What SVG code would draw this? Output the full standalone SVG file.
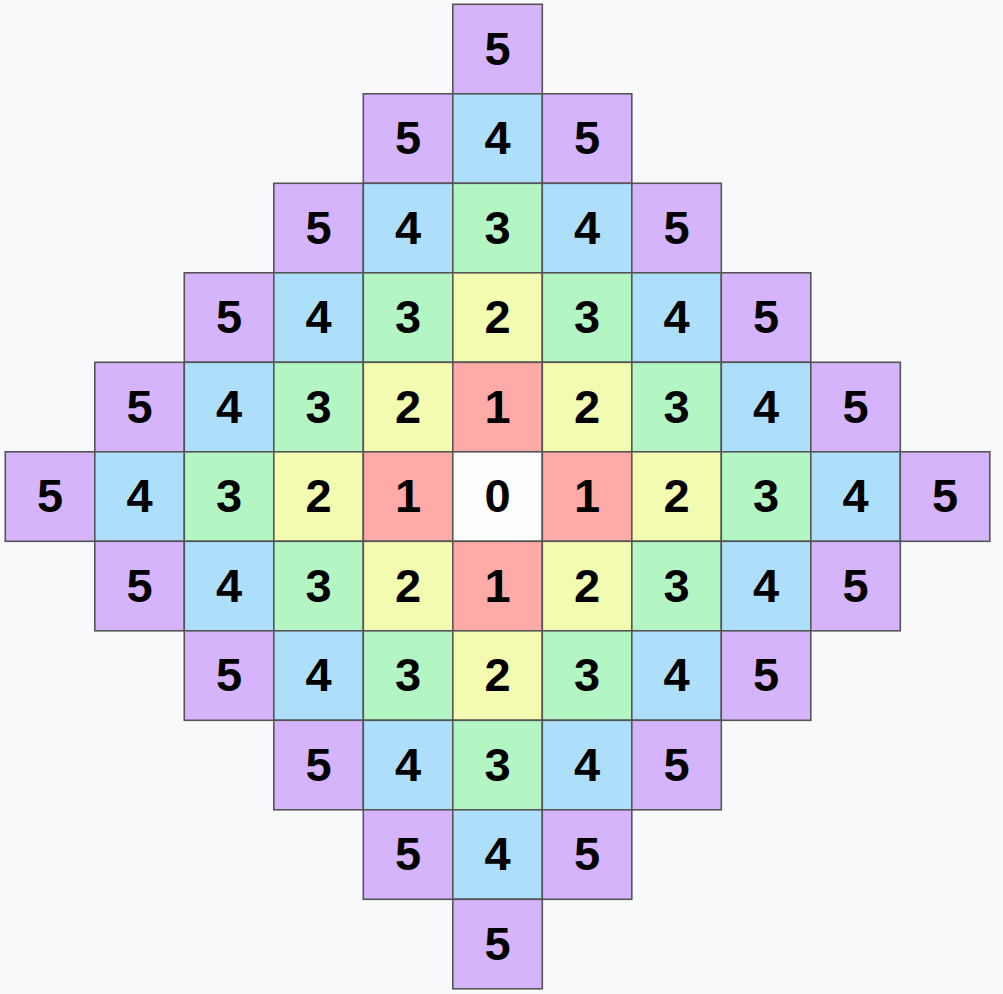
<svg xmlns="http://www.w3.org/2000/svg" width="1003" height="994" viewBox="0 0 1003 994">
<style>
rect.c{stroke:#555;stroke-width:1.6}
.d0{fill:#fdfdfd}.d1{fill:#fdaaa9}.d2{fill:#f3fbb1}.d3{fill:#b4f5c4}.d4{fill:#addffb}.d5{fill:#d6b4fc}
text{font-family:"Liberation Sans",Arial,sans-serif;font-weight:bold;font-size:47px;text-anchor:middle;fill:#000}
</style>
<rect width="1003" height="994" fill="#f8f9fa"/>
<g id="cells">
<g id="r0c5"><rect class="c d5" x="452.8" y="4.3" width="89.5" height="89.5"/><text x="497.5" y="64.5">5</text></g>
<g id="r1c4"><rect class="c d5" x="363.3" y="93.8" width="89.5" height="89.5"/><text x="408" y="154">5</text></g>
<g id="r1c5"><rect class="c d4" x="452.8" y="93.8" width="89.5" height="89.5"/><text x="497.5" y="154">4</text></g>
<g id="r1c6"><rect class="c d5" x="542.3" y="93.8" width="89.5" height="89.5"/><text x="587" y="154">5</text></g>
<g id="r2c3"><rect class="c d5" x="273.8" y="183.3" width="89.5" height="89.5"/><text x="318.5" y="243.5">5</text></g>
<g id="r2c4"><rect class="c d4" x="363.3" y="183.3" width="89.5" height="89.5"/><text x="408" y="243.5">4</text></g>
<g id="r2c5"><rect class="c d3" x="452.8" y="183.3" width="89.5" height="89.5"/><text x="497.5" y="243.5">3</text></g>
<g id="r2c6"><rect class="c d4" x="542.3" y="183.3" width="89.5" height="89.5"/><text x="587" y="243.5">4</text></g>
<g id="r2c7"><rect class="c d5" x="631.8" y="183.3" width="89.5" height="89.5"/><text x="676.5" y="243.5">5</text></g>
<g id="r3c2"><rect class="c d5" x="184.3" y="272.8" width="89.5" height="89.5"/><text x="229" y="333">5</text></g>
<g id="r3c3"><rect class="c d4" x="273.8" y="272.8" width="89.5" height="89.5"/><text x="318.5" y="333">4</text></g>
<g id="r3c4"><rect class="c d3" x="363.3" y="272.8" width="89.5" height="89.5"/><text x="408" y="333">3</text></g>
<g id="r3c5"><rect class="c d2" x="452.8" y="272.8" width="89.5" height="89.5"/><text x="497.5" y="333">2</text></g>
<g id="r3c6"><rect class="c d3" x="542.3" y="272.8" width="89.5" height="89.5"/><text x="587" y="333">3</text></g>
<g id="r3c7"><rect class="c d4" x="631.8" y="272.8" width="89.5" height="89.5"/><text x="676.5" y="333">4</text></g>
<g id="r3c8"><rect class="c d5" x="721.3" y="272.8" width="89.5" height="89.5"/><text x="766" y="333">5</text></g>
<g id="r4c1"><rect class="c d5" x="94.8" y="362.3" width="89.5" height="89.5"/><text x="139.5" y="422.5">5</text></g>
<g id="r4c2"><rect class="c d4" x="184.3" y="362.3" width="89.5" height="89.5"/><text x="229" y="422.5">4</text></g>
<g id="r4c3"><rect class="c d3" x="273.8" y="362.3" width="89.5" height="89.5"/><text x="318.5" y="422.5">3</text></g>
<g id="r4c4"><rect class="c d2" x="363.3" y="362.3" width="89.5" height="89.5"/><text x="408" y="422.5">2</text></g>
<g id="r4c5"><rect class="c d1" x="452.8" y="362.3" width="89.5" height="89.5"/><text x="497.5" y="422.5">1</text></g>
<g id="r4c6"><rect class="c d2" x="542.3" y="362.3" width="89.5" height="89.5"/><text x="587" y="422.5">2</text></g>
<g id="r4c7"><rect class="c d3" x="631.8" y="362.3" width="89.5" height="89.5"/><text x="676.5" y="422.5">3</text></g>
<g id="r4c8"><rect class="c d4" x="721.3" y="362.3" width="89.5" height="89.5"/><text x="766" y="422.5">4</text></g>
<g id="r4c9"><rect class="c d5" x="810.8" y="362.3" width="89.5" height="89.5"/><text x="855.5" y="422.5">5</text></g>
<g id="r5c0"><rect class="c d5" x="5.3" y="451.8" width="89.5" height="89.5"/><text x="50" y="512">5</text></g>
<g id="r5c1"><rect class="c d4" x="94.8" y="451.8" width="89.5" height="89.5"/><text x="139.5" y="512">4</text></g>
<g id="r5c2"><rect class="c d3" x="184.3" y="451.8" width="89.5" height="89.5"/><text x="229" y="512">3</text></g>
<g id="r5c3"><rect class="c d2" x="273.8" y="451.8" width="89.5" height="89.5"/><text x="318.5" y="512">2</text></g>
<g id="r5c4"><rect class="c d1" x="363.3" y="451.8" width="89.5" height="89.5"/><text x="408" y="512">1</text></g>
<g id="r5c5"><rect class="c d0" x="452.8" y="451.8" width="89.5" height="89.5"/><text x="497.5" y="512">0</text></g>
<g id="r5c6"><rect class="c d1" x="542.3" y="451.8" width="89.5" height="89.5"/><text x="587" y="512">1</text></g>
<g id="r5c7"><rect class="c d2" x="631.8" y="451.8" width="89.5" height="89.5"/><text x="676.5" y="512">2</text></g>
<g id="r5c8"><rect class="c d3" x="721.3" y="451.8" width="89.5" height="89.5"/><text x="766" y="512">3</text></g>
<g id="r5c9"><rect class="c d4" x="810.8" y="451.8" width="89.5" height="89.5"/><text x="855.5" y="512">4</text></g>
<g id="r5c10"><rect class="c d5" x="900.3" y="451.8" width="89.5" height="89.5"/><text x="945" y="512">5</text></g>
<g id="r6c1"><rect class="c d5" x="94.8" y="541.3" width="89.5" height="89.5"/><text x="139.5" y="601.5">5</text></g>
<g id="r6c2"><rect class="c d4" x="184.3" y="541.3" width="89.5" height="89.5"/><text x="229" y="601.5">4</text></g>
<g id="r6c3"><rect class="c d3" x="273.8" y="541.3" width="89.5" height="89.5"/><text x="318.5" y="601.5">3</text></g>
<g id="r6c4"><rect class="c d2" x="363.3" y="541.3" width="89.5" height="89.5"/><text x="408" y="601.5">2</text></g>
<g id="r6c5"><rect class="c d1" x="452.8" y="541.3" width="89.5" height="89.5"/><text x="497.5" y="601.5">1</text></g>
<g id="r6c6"><rect class="c d2" x="542.3" y="541.3" width="89.5" height="89.5"/><text x="587" y="601.5">2</text></g>
<g id="r6c7"><rect class="c d3" x="631.8" y="541.3" width="89.5" height="89.5"/><text x="676.5" y="601.5">3</text></g>
<g id="r6c8"><rect class="c d4" x="721.3" y="541.3" width="89.5" height="89.5"/><text x="766" y="601.5">4</text></g>
<g id="r6c9"><rect class="c d5" x="810.8" y="541.3" width="89.5" height="89.5"/><text x="855.5" y="601.5">5</text></g>
<g id="r7c2"><rect class="c d5" x="184.3" y="630.8" width="89.5" height="89.5"/><text x="229" y="691">5</text></g>
<g id="r7c3"><rect class="c d4" x="273.8" y="630.8" width="89.5" height="89.5"/><text x="318.5" y="691">4</text></g>
<g id="r7c4"><rect class="c d3" x="363.3" y="630.8" width="89.5" height="89.5"/><text x="408" y="691">3</text></g>
<g id="r7c5"><rect class="c d2" x="452.8" y="630.8" width="89.5" height="89.5"/><text x="497.5" y="691">2</text></g>
<g id="r7c6"><rect class="c d3" x="542.3" y="630.8" width="89.5" height="89.5"/><text x="587" y="691">3</text></g>
<g id="r7c7"><rect class="c d4" x="631.8" y="630.8" width="89.5" height="89.5"/><text x="676.5" y="691">4</text></g>
<g id="r7c8"><rect class="c d5" x="721.3" y="630.8" width="89.5" height="89.5"/><text x="766" y="691">5</text></g>
<g id="r8c3"><rect class="c d5" x="273.8" y="720.3" width="89.5" height="89.5"/><text x="318.5" y="780.5">5</text></g>
<g id="r8c4"><rect class="c d4" x="363.3" y="720.3" width="89.5" height="89.5"/><text x="408" y="780.5">4</text></g>
<g id="r8c5"><rect class="c d3" x="452.8" y="720.3" width="89.5" height="89.5"/><text x="497.5" y="780.5">3</text></g>
<g id="r8c6"><rect class="c d4" x="542.3" y="720.3" width="89.5" height="89.5"/><text x="587" y="780.5">4</text></g>
<g id="r8c7"><rect class="c d5" x="631.8" y="720.3" width="89.5" height="89.5"/><text x="676.5" y="780.5">5</text></g>
<g id="r9c4"><rect class="c d5" x="363.3" y="809.8" width="89.5" height="89.5"/><text x="408" y="870">5</text></g>
<g id="r9c5"><rect class="c d4" x="452.8" y="809.8" width="89.5" height="89.5"/><text x="497.5" y="870">4</text></g>
<g id="r9c6"><rect class="c d5" x="542.3" y="809.8" width="89.5" height="89.5"/><text x="587" y="870">5</text></g>
<g id="r10c5"><rect class="c d5" x="452.8" y="899.3" width="89.5" height="89.5"/><text x="497.5" y="959.5">5</text></g>
</g>
<g id="connectors"/>
</svg>
